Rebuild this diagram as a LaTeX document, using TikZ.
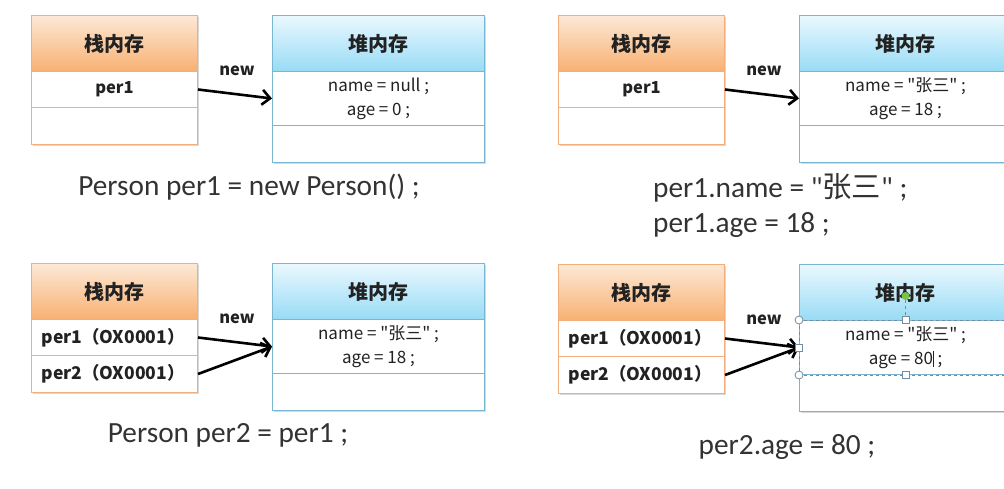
\documentclass[tikz,border=0pt]{standalone}
\usepackage{fontspec}
\setmainfont{Carlito}[Ligatures=TeXOff]
\newfontfamily\cjk{Noto Sans CJK SC}[Ligatures=TeXOff]
\usetikzlibrary{arrows.meta,shadows}
\definecolor{stkborder}{HTML}{F3AE7E}
\definecolor{stktop}{HTML}{FDE8D6}
\definecolor{stkbot}{HTML}{F8B172}
\definecolor{hpborder}{HTML}{78B7D1}
\definecolor{hptop}{HTML}{EAF8FE}
\definecolor{hpbot}{HTML}{98DBF5}
\definecolor{txt}{HTML}{222222}
\definecolor{codecol}{HTML}{333333}
\definecolor{selline}{HTML}{6F8DA6}
\definecolor{rotgreen}{HTML}{7CC142}
\tikzset{
  frame/.style={fill=white, anchor=north west, inner sep=0pt,
    drop shadow={opacity=0.3, shadow xshift=2pt, shadow yshift=-2pt}},
  sthead/.style={draw=stkborder, line width=1pt, top color=stktop, bottom color=stkbot,
    anchor=north west, inner sep=0pt, minimum width=166pt, minimum height=56pt,
    font=\cjk\bfseries\fontsize{20}{20}\selectfont, text=txt},
  strow/.style={draw=stkborder, line width=1pt, fill=white, anchor=north west,
    inner sep=0pt, minimum width=166pt, font=\cjk\bfseries\fontsize{16.5}{16.5}\selectfont, text=txt},
  stleft/.style={strow, text width=146pt, align=left, inner xsep=10pt, font=\cjk\bfseries\fontsize{17.5}{17.5}\selectfont},
  hphead/.style={draw=hpborder, line width=1pt, top color=hptop, bottom color=hpbot,
    anchor=north west, inner sep=0pt, minimum width=212pt, minimum height=56pt,
    font=\cjk\bfseries\fontsize{20}{20}\selectfont, text=txt},
  hprow/.style={draw=hpborder, line width=1pt, fill=white, anchor=north west,
    inner sep=0pt, minimum width=212pt, font=\cjk\fontsize{17}{24}\selectfont,
    align=center, text=txt},
  newlbl/.style={font=\cjk\bfseries\fontsize{16.5}{16.5}\selectfont, text=txt, inner sep=0pt},
  ptr/.style={line width=2.6pt, black, -{Straight Barb[length=8pt, width=15pt]}},
  codetxt/.style={font=\fontsize{29.3}{35}\selectfont, text=codecol, inner sep=0pt},
  hcirc/.style={circle, draw=selline, fill=white, line width=0.8pt, minimum size=8pt, inner sep=0pt},
  hsq/.style={rectangle, draw=selline, fill=white, line width=0.8pt, minimum size=7pt, inner sep=0pt},
  hgreen/.style={circle, fill=rotgreen, minimum size=8pt, inner sep=0pt},
}
% #1 prefix, #2 x shift, #3 y shift, #4 row style, #5 stack row1, #6 stack row2, #7 heap row1
\newcommand\mempanel[7]{%
  \begin{scope}[shift={(#2,#3)}]
    \node[frame, minimum width=166pt, minimum height=129pt] (#1sf) at (31,15) {};
    \node[frame, minimum width=212pt, minimum height=147pt] (#1hf) at (272,15) {};
    \node[sthead] (#1sh) at (31,15) {栈内存};
    \node[#4, minimum height=36pt] (#1s1) at (31,71) {#5};
    \node[#4, minimum height=37pt] (#1s2) at (31,107) {#6};
    \node[hphead] (#1hh) at (272,15) {堆内存};
    \node[hprow, minimum height=54pt] (#1h1) at (272,71) {\raisebox{-2pt}{\begin{tabular}{@{}c@{}}#7\end{tabular}}};
    \node[hprow, minimum height=37pt] (#1h2) at (272,125) {};
    \node[newlbl] (#1new) at (237,71) {new};
  \end{scope}}
\newcommand\txtcursor{\rule[-0.15em]{0.7pt}{0.95em}}
\begin{document}
\begin{tikzpicture}[x=1pt,y=-1pt]
\useasboundingbox (0,0) rectangle (1004,488);
\clip (0,0) rectangle (1004,488);
\fill[white] (0,0) rectangle (1004,488);

% panel 1
\mempanel{a}{0}{0}{strow}{per1}{}{name = null ;\\age = 0 ;}
\draw[ptr] (as1.east) -- (ah1.west);
\node[codetxt] (acode) at (249,187) {Person per1 = new Person() ;};

% panel 2
\mempanel{b}{527}{0}{strow}{per1}{}{name = "张三" ;\\age = 18 ;}
\draw[ptr] (bs1.east) -- (bh1.west);
\node[codetxt, anchor=west, align=left] (bcode) at (653,205)
  {per1.name = "{\cjk 张三}" ;\\per1.age = 18 ;};

% panel 3
\mempanel{c}{0}{248}{stleft}{per1（OX0001）}{per2（OX0001）}{name = "张三" ;\\age = 18 ;}
\draw[ptr] (cs1.east) -- (ch1.west);
\draw[ptr] (cs2.east) -- (ch1.west);
\node[codetxt] (ccode) at (228,435) {Person per2 = per1 ;};

% panel 4
\mempanel{d}{527}{249}{stleft}{per1（OX0001）}{per2（OX0001）}{name = "张三" ;\\age = 80\txtcursor{} ;}
\draw[ptr] (ds1.east) -- (dh1.west);
\draw[ptr] (ds2.east) -- (dh1.west);
\node[codetxt] (dcode) at (787,447) {per2.age = 80 ;};

% selection handles on panel 4 heap row
\draw[selline, dashed, line width=0.8pt] (dh1.north west) rectangle (dh1.south east);
\node[hgreen] (dgrn) at ([yshift=24pt]dh1.north) {};
\node[hsq] (dsqt) at (dh1.north) {};
\draw[selline, dashed, line width=0.8pt] (dgrn) -- (dsqt);
\node[hcirc] (dc1) at (dh1.north west) {};
\node[hcirc] (dc2) at (dh1.south west) {};
\node[hsq] (dsql) at (dh1.west) {};
\node[hsq] (dsqb) at (dh1.south) {};
\end{tikzpicture}
\end{document}
